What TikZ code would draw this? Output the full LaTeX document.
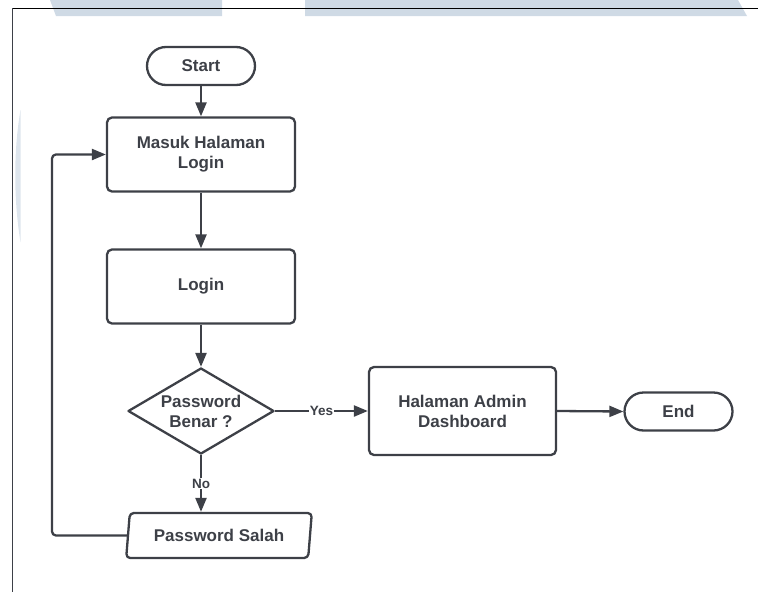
\documentclass[tikz,border=0pt]{standalone}
\usepackage{fontspec}
\setmainfont{Liberation Sans}
\usetikzlibrary{shapes.geometric,arrows.meta}
\definecolor{ink}{HTML}{3D4047}
\definecolor{wmblue}{HTML}{CFDAE5}
\begin{document}
\begin{tikzpicture}[x=1pt,y=-1pt,line join=round,
  every node/.style={font=\bfseries\fontsize{17}{20}\selectfont, text=ink, align=center},
  box/.style={draw=ink, line width=2.3pt, rounded corners=5pt, minimum width=188pt, minimum height=74pt, inner sep=0pt},
  term/.style={draw=ink, line width=2.3pt, rounded corners=19pt, minimum width=108pt, minimum height=38pt, inner sep=0pt},
  decide/.style={diamond, draw=ink, line width=2.3pt, aspect=1.7, inner sep=0pt, minimum width=146pt, minimum height=86pt},
  io/.style={trapezium, trapezium left angle=78, trapezium right angle=102, trapezium stretches=true, draw=ink, line width=2.3pt, rounded corners=4pt, minimum width=186pt, minimum height=45pt, inner sep=0pt},
  flow/.style={draw=ink, line width=2.3pt, -{Triangle[length=14pt,width=11pt]}},
  tag/.style={font=\bfseries\fontsize{13.5}{15}\selectfont, fill=white, inner sep=0.6pt}
]
\useasboundingbox (0,0) rectangle (758,592);

% faint page watermark
\fill[wmblue] (50,0) -- (222,0) -- (222,16) -- (56,16) -- cycle;
\fill[wmblue] (305,0) -- (738,0) -- (747,16) -- (305,16) -- cycle;
\fill[wmblue!70] (20.5,110) .. controls (13.5,150) and (13.5,200) .. (20.5,242) -- cycle;

% page frame
\draw[black, line width=1pt] (12,8) -- (758,8);
\draw[ink, line width=1pt] (12.5,8) -- (12.5,592);

% flowchart nodes
\node[term] (start) at (201,66) {Start};
\node[box] (masuk) at (201,154.5) {Masuk Halaman\\Login};
\node[box] (login) at (201,286.5) {Login};
\node[decide] (dec) at (201,411) {Password\\Benar ?};
\node[box, minimum width=187pt, minimum height=88pt] (admin) at (462.5,411) {Halaman Admin\\Dashboard};
\node[term] (end) at (678.5,411.5) {End};
\node[io] (salah) at (219,535.5) {Password Salah};
\coordinate (loopx) at (52,0);

% connectors
\draw[flow] (start) -- (masuk);
\draw[flow] (masuk) -- (login);
\draw[flow] (login) -- (dec);
\draw[flow] (dec.east) -- node[tag]{Yes} (admin.west);
\draw[flow] (admin.east) -- (end.west);
\draw[flow] (dec.south) -- node[tag]{No} (dec.south |- salah.north);
\draw[flow, rounded corners=4pt] (salah.left side) -| (loopx |- masuk.west) -- (masuk.west);
\end{tikzpicture}
\end{document}
